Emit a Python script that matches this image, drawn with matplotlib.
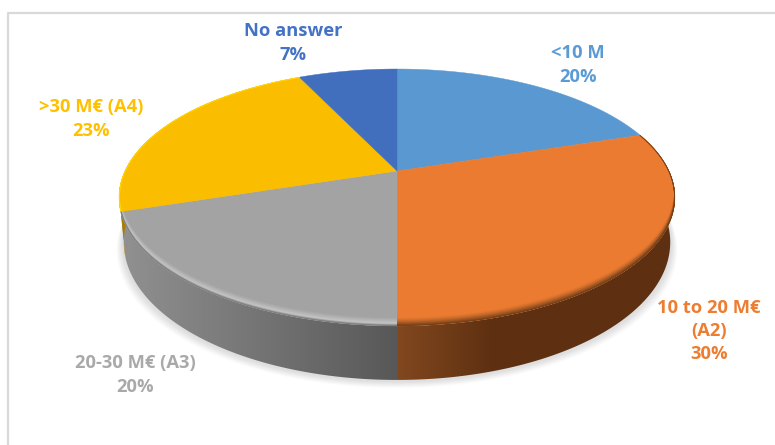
import numpy as np
import matplotlib
matplotlib.use("Agg")
import matplotlib.pyplot as plt
from matplotlib.colors import LinearSegmentedColormap, to_rgb
from matplotlib.patches import Polygon

# Data, clockwise from 12 o'clock
labels = ["<10 M", "10 to 20 M€\n(A2)", "20-30 M€ (A3)", ">30 M€ (A4)", "No answer"]
shares = [20, 30, 20, 23, 7]

face_colors = ["#5a98d2", "#ea7b31", "#a3a3a3", "#fbbd00", "#416fbe"]
label_colors = ["#5b9bd5", "#ed7d31", "#a9a9a9", "#ffc000", "#4472c4"]
rim_colors = [None, "#74401a", "#c4c4c4", "#ffd800", None]
wall_left = [None, "#82481f", "#939393", "#a87e00", None]
wall_right = [None, "#5e3011", "#585858", "#a87e00", None]
label_pos = [(578, 65), (709, 331), (135, 375), (91, 119), (293, 43)]

# Pie tilt, pixels of the 775x445 picture
cx, cy = 397, 171
rx, ry = 272, 123
tilt = 0.206
thick = 42.9
wall_shrink = 0.983


def project(frac, radius=1.0):
    ang = 2 * np.pi * np.asarray(frac)
    u = radius * np.sin(ang)
    v = radius * np.cos(ang)
    w = 1 + tilt * v
    return cx + rx * u / w, cy - ry * v / w, w


def lower(frac):
    x, y, w = project(frac)
    return cx + (x - cx) * wall_shrink, y + thick / w


fig = plt.figure(figsize=(7.75, 4.45), dpi=100)
ax = fig.add_axes([0, 0, 1, 1])
ax.set_xlim(0, 775)
ax.set_ylim(445, 0)
ax.axis("off")

# frame of the pasted chart, only left and top are in the crop
ax.plot([8, 8, 775], [445, 13, 13], color="#d9d9d9", lw=1.6, zorder=1)

# soft shadow under the pie
all_f = np.linspace(0, 1, 361)
for i in range(12):
    bx, by = lower(all_f)
    sx = cx + (bx - cx) * (1.026 - i * 0.002)
    sy = by + 8 - i * 0.6
    ax.fill(sx, sy, color="#7f7f7f", alpha=0.02, lw=0, zorder=2)

edges = np.cumsum([0] + shares) / sum(shares)

# side wall, gradient clipped to each slice
for i in range(len(shares)):
    if wall_left[i] is None:
        continue
    f = np.linspace(edges[i], edges[i + 1], 120)
    tx, ty, _ = project(f)
    bx, by = lower(f)
    clip = Polygon(np.r_[np.c_[tx, ty], np.c_[bx, by][::-1]], closed=True,
                   transform=ax.transData, fc="none", ec="none")
    ax.add_patch(clip)
    cmap = LinearSegmentedColormap.from_list("wall", [wall_left[i], wall_right[i]])
    if i == 1:
        # orange side: lighter next to the split, then flat
        x0, x1 = cx, cx + 95
        ext = (x0, 700, 400, 100)
        grad = np.clip((np.linspace(x0, 700, 300) - x0) / (x1 - x0), 0, 1)
    else:
        ext = (110, cx, 400, 100)
        grad = np.linspace(0, 1, 300)
    im = ax.imshow(grad[None, :], cmap=cmap, extent=ext, aspect="auto",
                   interpolation="bilinear", zorder=3, vmin=0, vmax=1)
    im.set_clip_path(clip)

# top face
for i, col in enumerate(face_colors):
    f = np.linspace(edges[i], edges[i + 1], 160)
    tx, ty, _ = project(f)
    pts = np.r_[[[cx, cy]], np.c_[tx, ty]]
    wedge = Polygon(pts, closed=True, fc=col, ec=col, lw=0.3, zorder=4)
    ax.add_patch(wedge)
    if rim_colors[i] is None:
        continue
    # bevel on the near edge: rim line moved up step by step
    base = np.array(to_rgb(col))
    edge = np.array(to_rgb(rim_colors[i]))
    depth = 8 if i != 3 else 4
    for d in np.arange(depth, -0.1, -0.5):
        if i == 2:
            # grey rim: highlight a little inside the edge
            t = np.interp(d, [0, 2, 4.5, depth], [0.0, 1.0, 0.6, 0.0])
            if d < 2:
                c = np.array(to_rgb("#7c7c7c")) + (edge - np.array(to_rgb("#7c7c7c"))) * (d / 2)
            else:
                c = base + (edge - base) * t
        else:
            t = (1 - d / depth) ** 1.4
            c = base + (edge - base) * t
        line, = ax.plot(tx, ty - d, color=c, lw=1.1, zorder=5)
        line.set_clip_path(wedge)

for i, lab in enumerate(labels):
    ax.text(label_pos[i][0], label_pos[i][1], f"{lab}\n{shares[i]}%",
            color=label_colors[i], family="Open Sans", fontweight="bold",
            fontsize=13.2, ha="center", va="center", linespacing=1.37, zorder=6)

ax.set_xlim(0, 775)
ax.set_ylim(445, 0)
fig.savefig("out.png", dpi=100)
